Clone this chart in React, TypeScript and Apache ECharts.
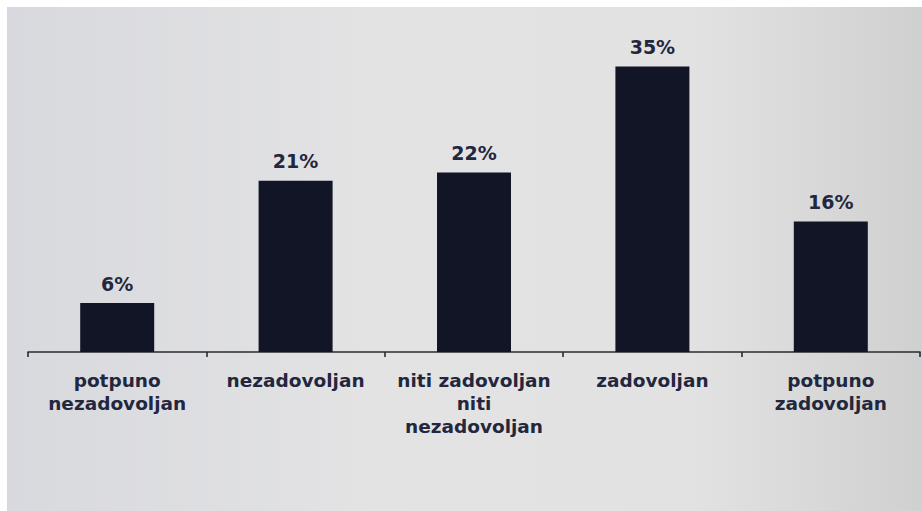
import React, { useEffect, useRef } from "react";
import * as echarts from "echarts";

const categories: string[] = [
  "potpuno\nnezadovoljan",
  "nezadovoljan",
  "niti zadovoljan\nniti\nnezadovoljan",
  "zadovoljan",
  "potpuno\nzadovoljan",
];
const values: number[] = [6, 21, 22, 35, 16];

export default function App() {
  const ref = useRef<HTMLDivElement>(null);
  useEffect(() => {
    if (!ref.current) return;
    const chart = echarts.init(ref.current, null, { renderer: "svg" });
    chart.setOption({
      animation: false,
      grid: { left: 21, right: 2, top: 35, bottom: 159 },
      xAxis: {
        type: "category",
        data: categories,
        axisLine: { lineStyle: { color: "#2a2a30", width: 1.6 } },
        axisTick: { show: true, length: 5, lineStyle: { color: "#2a2a30", width: 1.6 } },
        axisLabel: {
          interval: 0,
          margin: 17,
          fontFamily: "DejaVu Sans",
          fontWeight: "bold",
          fontSize: 18.5,
          lineHeight: 23,
          color: "#23273e",
        },
      },
      yAxis: { type: "value", min: 0, max: 38, show: false, splitLine: { show: false } },
      series: [
        {
          type: "bar",
          data: values,
          barWidth: 74,
          itemStyle: { color: "#111526" },
          label: {
            show: true,
            position: "top",
            distance: 10,
            formatter: "{c}%",
            fontFamily: "DejaVu Sans",
            fontWeight: "bold",
            fontSize: 19,
            color: "#23273e",
          },
        },
      ],
    });
    return () => chart.dispose();
  }, []);
  return (
    <div style={{ position: "fixed", left: 0, top: 0, width: 922, height: 511, background: "#ffffff" }}>
      <div
        style={{
          position: "absolute",
          left: 7,
          top: 7,
          width: 915,
          height: 504,
          background: "linear-gradient(90deg, #d8d9de 0%, #e3e3e4 40%, #e2e2e2 75%, #d0d0d0 100%)",
        }}
      >
        <div ref={ref} style={{ width: 915, height: 504 }} />
      </div>
    </div>
  );
}
